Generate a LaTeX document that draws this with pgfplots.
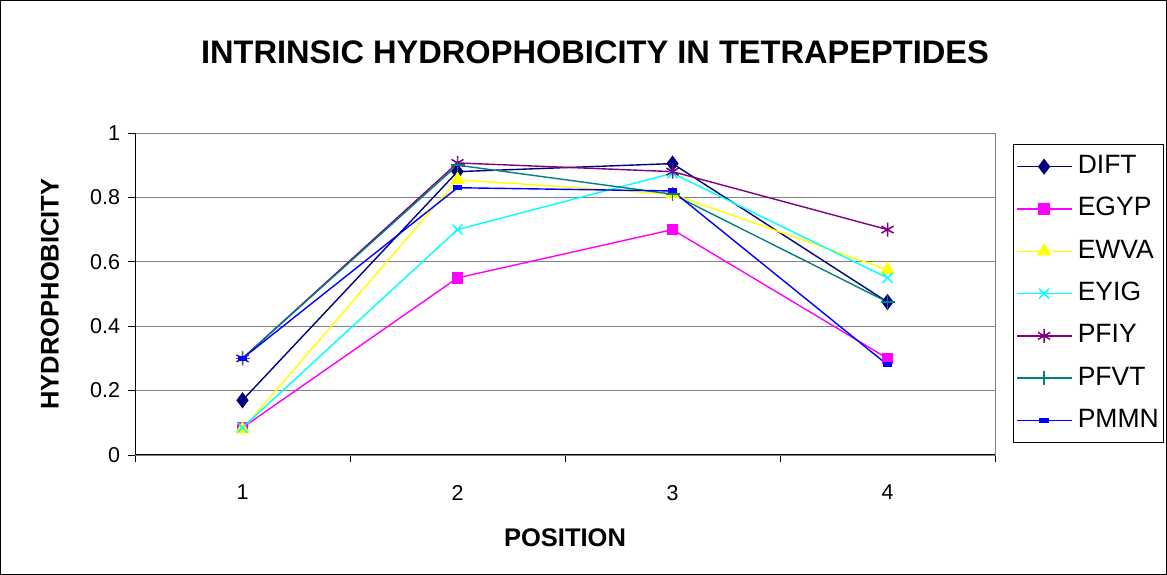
\documentclass[border=0pt]{standalone}
\usepackage{fontspec}
\setmainfont{Liberation Sans}
\usepackage{pgfplots}
\pgfplotsset{compat=1.18}
\definecolor{cDIFT}{RGB}{0,0,128}
\definecolor{cEGYP}{RGB}{255,0,255}
\definecolor{cEWVA}{RGB}{255,255,0}
\definecolor{cEYIG}{RGB}{0,255,255}
\definecolor{cPFIY}{RGB}{128,0,128}
\definecolor{cPFVT}{RGB}{0,128,128}
\definecolor{cPMMN}{RGB}{0,0,255}
\begin{document}
\begin{tikzpicture}[x=1pt,y=1pt]
\useasboundingbox (0,0) rectangle (1167,575);
\draw[black, line width=1pt] (0.5,0.5) rectangle (1166.5,574.5);
\node[font=\fontsize{32.6}{32.6}\selectfont\bfseries] at (595,523) {INTRINSIC HYDROPHOBICITY IN TETRAPEPTIDES};
\begin{axis}[
  at={(135pt,120pt)}, anchor=south west,
  scale only axis, width=860pt, height=322pt,
  xmin=0.5, xmax=4.5, ymin=0, ymax=1,
  xtick={1,2,3,4}, minor xtick={0.5,1.5,2.5,3.5,4.5},
  ytick={0,0.2,0.4,0.6,0.8,1},
  major x tick style={draw=none},
  tick align=outside, tick pos=left,
  major tick length=7pt, minor tick length=7pt,
  tick style={black, line width=0.8pt},
  ymajorgrids, grid style={gray, line width=0.8pt},
  axis line style={gray, line width=0.8pt},
  ticklabel style={font=\fontsize{21.5}{21.5}\selectfont},
  /pgf/number format/assume math mode=true,
  yticklabel style={xshift=-4pt},
  xticklabel style={yshift=-19pt},
  xlabel={POSITION}, ylabel={HYDROPHOBICITY},
  label style={font=\fontsize{25.5}{25.5}\selectfont\bfseries},
  xlabel style={at={(axis description cs:0.5,-0.258)}, anchor=center},
  ylabel style={at={(axis description cs:-0.099,0.5)}, anchor=center, rotate=0},
  line width=1.4pt,
  legend style={at={(axis description cs:1.0209,0.965)}, anchor=north west,
    draw=black, line width=0.8pt, font=\fontsize{26.5}{26.5}\selectfont,
    row sep=16.3pt, column sep=3pt, inner xsep=3pt, inner ysep=9pt,
    nodes={inner sep=2pt, text height=18pt, text depth=4pt}},
  legend cell align=left,
  legend image code/.code={\draw[line width=1.4pt,mark repeat=2,mark phase=2,#1] plot coordinates {(0pt,0pt)(27pt,0pt)(55pt,0pt)};},
]
\draw[black, line width=1pt] (rel axis cs:0,1) -- (rel axis cs:0,0) -- (rel axis cs:1,0);
\addplot[color=cDIFT, mark=diamond*, mark size=7pt, mark options={solid}] coordinates {(1,0.17) (2,0.88) (3,0.905) (4,0.475)};
\addplot[color=cEGYP, mark=square*, mark size=5pt] coordinates {(1,0.085) (2,0.55) (3,0.70) (4,0.30)};
\addplot[color=cEWVA, mark=triangle*, mark size=7pt] coordinates {(1,0.08) (2,0.855) (3,0.81) (4,0.575)};
\addplot[color=cEYIG, mark=x, mark size=7pt, mark options={line width=1.5pt}] coordinates {(1,0.085) (2,0.70) (3,0.875) (4,0.55)};
\addplot[color=cPFIY, mark=asterisk, mark size=7pt, mark options={line width=1.5pt}] coordinates {(1,0.30) (2,0.907) (3,0.88) (4,0.70)};
\addplot[color=cPFVT, mark=+, mark size=7pt, mark options={line width=1.5pt}] coordinates {(1,0.30) (2,0.90) (3,0.81) (4,0.475)};
\addplot[color=cPMMN, mark=square*, mark size=3pt, mark options={xscale=1.4, yscale=0.6}] coordinates {(1,0.30) (2,0.83) (3,0.82) (4,0.28)};
\legend{DIFT, EGYP, EWVA, EYIG, PFIY, PFVT, PMMN}
\end{axis}
\end{tikzpicture}
\end{document}
